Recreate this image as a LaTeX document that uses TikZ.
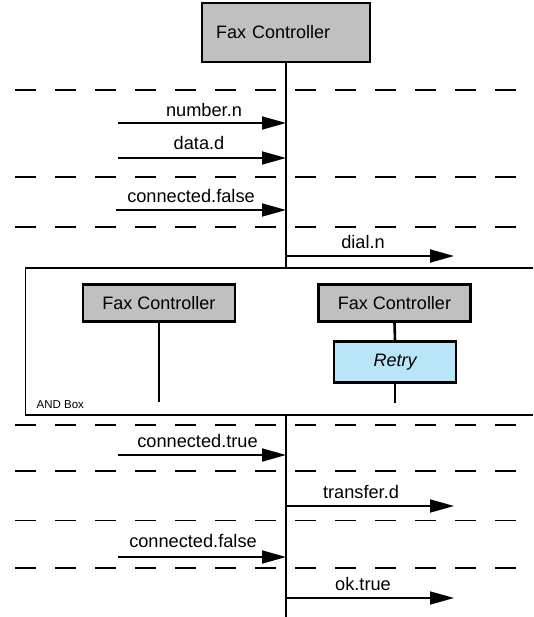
\documentclass[tikz,border=0pt]{standalone}
\usepackage{fontspec}
\setmainfont{Liberation Sans}
\usetikzlibrary{arrows.meta}
\definecolor{boxgray}{HTML}{C0C0C0}
\definecolor{retryblue}{HTML}{B9E5F9}
\begin{document}
\begin{tikzpicture}[x=1pt,y=-1pt,
  lbl/.style={font=\fontsize{18.2}{21}\selectfont, inner sep=0pt},
  msg/.style={line width=1.8pt, -{Triangle[length=24pt,width=13pt]}},
  life/.style={line width=1.8pt},
  sepline/.style={line width=1.8pt, dash pattern=on 21pt off 19pt},
  ctrl/.style={draw, line width=2.8pt, fill=boxgray, minimum width=152pt,
    minimum height=37pt, inner sep=0pt, font=\fontsize{18}{21}\selectfont},
  retrybox/.style={draw, line width=2.2pt, fill=retryblue, minimum width=122pt,
    minimum height=41pt, inner sep=0pt, font=\fontsize{18}{21}\selectfont\itshape},
  ]
\useasboundingbox (0,0) rectangle (533,617);

% separators between the phases of the trace
\foreach \y in {90,177,227,425,471,520.5,568}
  \draw[sepline] (15,\y) -- (533,\y);

% the top-level controller and its lifeline
\node[draw, line width=1.2pt, fill=boxgray, minimum width=168pt, minimum height=59pt,
  text width=140pt, align=left, inner xsep=14pt,
  font=\fontsize{18}{21}\selectfont] (top) at (286,32.5) {Fax Controller};
\coordinate (andtop) at (286,268);
\coordinate (andbot) at (286,415);
\coordinate (lifeend) at (286,617);
\draw[life] (top.south) -- (andtop);
\draw[life] (andbot) -- (lifeend);

% AND box (runs off the right edge)
\draw[line width=1.8pt] (533,268) -| (25.5,415) -- (533,415);
\node[inner sep=0pt, anchor=west, font=\fontsize{11.5}{13}\selectfont] (andlbl) at (36.5,404.5) {AND Box};

\node[ctrl] (c1) at (159,303) {Fax Controller};
\coordinate (c1end) at (159,402);
\draw[life, line width=2.6pt] (c1.south) -- (c1end);

\node[ctrl] (c2) at (394.5,303) {Fax Controller};
\node[retrybox] (retry) at (395,362) {Retry};
\coordinate (c2end) at (395,403);
\draw[life, line width=2.6pt] (c2.south) -- (retry.north);
\draw[life, line width=2.6pt] (retry.south) -- (c2end);

% incoming messages
\coordinate (s1) at (118,123);  \coordinate (e1) at (286,123);
\coordinate (s2) at (118,158);  \coordinate (e2) at (286,158);
\coordinate (s3) at (116,210);  \coordinate (e3) at (286,210);
\coordinate (s5) at (118,455);  \coordinate (e5) at (286,455);
\coordinate (s7) at (118,557);  \coordinate (e7) at (286,557);
% outgoing messages
\coordinate (s4) at (286,256);  \coordinate (e4) at (454,256);
\coordinate (s6) at (286,506);  \coordinate (e6) at (454,506);
\coordinate (s8) at (286,598);  \coordinate (e8) at (454,598);

\draw[msg] (s1) -- (e1);
\draw[msg] (s2) -- (e2);
\draw[msg] (s3) -- (e3);
\draw[msg] (s4) -- (e4);
\draw[msg] (s5) -- (e5);
\draw[msg] (s6) -- (e6);
\draw[msg] (s7) -- (e7);
\draw[msg] (s8) -- (e8);

\node[lbl] (l1) at (204,110) {number.n};
\node[lbl] (l2) at (199,143) {data.d};
\node[lbl] (l3) at (191,196) {connected.false};
\node[lbl] (l4) at (363,242) {dial.n};
\node[lbl] (l5) at (197.5,441) {connected.true};
\node[lbl] (l6) at (361,492) {transfer.d};
\node[lbl] (l7) at (193,541) {connected.false};
\node[lbl] (l8) at (363,584) {ok.true};
\end{tikzpicture}
\end{document}
